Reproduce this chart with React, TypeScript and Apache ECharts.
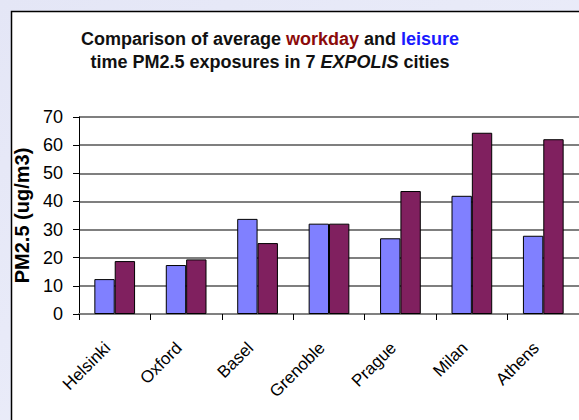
import React, { useEffect, useRef } from "react";
import * as echarts from "echarts";

const cities = ["Helsinki", "Oxford", "Basel", "Grenoble", "Prague", "Milan", "Athens"];
const leisure = [12.4, 17.4, 33.8, 32.1, 26.9, 42.0, 27.8];
const workday = [18.8, 19.4, 25.2, 32.1, 43.7, 64.4, 62.1];
const yTicks = { min: 0, max: 70, interval: 10 };

export default function App() {
  const ref = useRef<HTMLDivElement>(null);
  useEffect(() => {
    document.body.style.margin = "0";
    const chart = echarts.init(ref.current!, null, { renderer: "svg" });
    const font = "Arial, 'Liberation Sans', sans-serif";
    chart.setOption({
      animation: false,
      backgroundColor: {
        type: "linear", x: 0, y: 0, x2: 1, y2: 1,
        colorStops: [
          { offset: 0, color: "#e4e6f6" },
          { offset: 1, color: "#eef0fb" },
        ],
      },
      graphic: [
        {
          type: "rect",
          shape: { x: 11.5, y: 11.5, width: 600, height: 440 },
          style: { fill: "#ffffff", stroke: "#000000", lineWidth: 1.5 },
          z: -10,
        },
      ],
      title: {
        text: "Comparison of average {r|workday} and {b|leisure}\ntime PM2.5 exposures in 7 {i|EXPOLIS} cities",
        left: 270,
        textAlign: "center",
        top: 27,
        padding: 0,
        textStyle: {
          fontFamily: font,
          fontSize: 18,
          fontWeight: "bold",
          color: "#111111",
          lineHeight: 23,
          rich: {
            r: { color: "#8b0a0a", fontFamily: font, fontSize: 18, fontWeight: "bold", lineHeight: 23 },
            b: { color: "#1a1aff", fontFamily: font, fontSize: 18, fontWeight: "bold", lineHeight: 23 },
            i: { color: "#111111", fontFamily: font, fontSize: 18, fontWeight: "bold", fontStyle: "italic", lineHeight: 23 },
          },
        },
      },
      grid: { left: 79, top: 117, width: 512, height: 197, containLabel: false },
      xAxis: {
        type: "category",
        data: cities,
        axisLine: { show: true, lineStyle: { color: "#808080", width: 2 } },
        axisTick: { show: true, alignWithLabel: false, length: 6, lineStyle: { color: "#000000" } },
        axisLabel: {
          rotate: 45,
          interval: 0,
          fontFamily: font,
          fontSize: 17,
          color: "#000000",
          margin: 24,
          padding: [0, 10, 0, 0],
        },
      },
      yAxis: {
        type: "value",
        min: yTicks.min,
        max: yTicks.max,
        interval: yTicks.interval,
        name: "PM2.5 (ug/m3)",
        nameLocation: "middle",
        nameGap: 34,
        nameTextStyle: { fontFamily: font, fontSize: 20, fontWeight: "bold", color: "#000000" },
        axisLine: { show: true, lineStyle: { color: "#000000", width: 1 } },
        axisTick: { show: true, length: 6, lineStyle: { color: "#000000" } },
        axisLabel: { fontFamily: font, fontSize: 18, color: "#000000", margin: 16 },
        splitLine: { show: true, lineStyle: { color: "#555555", width: 1.5 } },
      },
      series: [
        {
          name: "leisure",
          type: "bar",
          data: leisure,
          barGap: "0%",
          barCategoryGap: "43%",
          itemStyle: { color: "#8080ff", borderColor: "#000000", borderWidth: 1 },
        },
        {
          name: "workday",
          type: "bar",
          data: workday,
          barGap: "0%",
          barCategoryGap: "43%",
          itemStyle: { color: "#80205f", borderColor: "#000000", borderWidth: 1 },
        },
      ],
    });
    return () => chart.dispose();
  }, []);
  return <div ref={ref} style={{ width: 579, height: 420 }} />;
}
